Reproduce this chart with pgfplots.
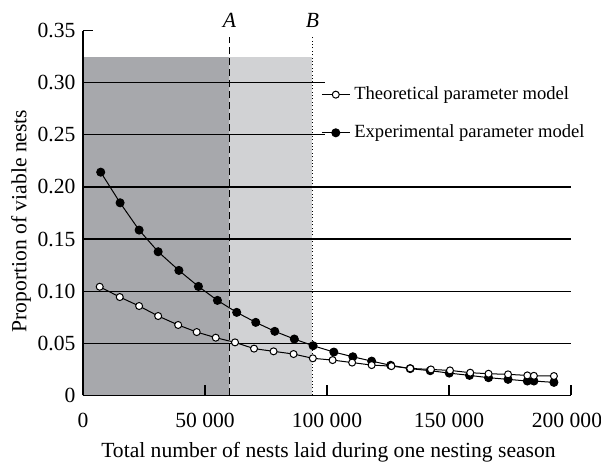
\documentclass[border=0pt]{standalone}
\usepackage{pgfplots}
\pgfplotsset{compat=1.18}
\usepackage{fontspec}
\setmainfont{Liberation Serif}
\definecolor{darkshade}{RGB}{167,168,172}
\definecolor{lightshade}{RGB}{209,210,212}
\begin{document}
\fontsize{10.8}{13}\selectfont
\begin{tikzpicture}
\useasboundingbox (-41.5pt,-34.35pt) rectangle (259pt,197.65pt);
\begin{axis}[
  scale only axis, width=244pt, height=182.3pt,
  xmin=0, xmax=200000, ymin=0, ymax=0.35,
  axis x line*=bottom, axis y line*=left,
  axis line style={-, line width=0.6pt},
  axis on top,
  xtick={0,50000,100000,150000,200000},
  xticklabels={0,50 000,100 000,150 000,\hspace*{-4pt}200 000},
  xticklabel style={yshift=-5pt},
  ytick={0,0.05,0.10,0.15,0.20,0.25,0.30,0.35},
  yticklabels={0,0.05,0.10,0.15,0.20,0.25,0.30,0.35},
  tick align=inside,
  major tick length=5pt,
  tick style={black, line width=0.6pt},
  scaled x ticks=false,
  xlabel={Total number of nests laid during one nesting season},
  xlabel style={at={(axis description cs:0.503,-0.1555)}, anchor=center},
  ylabel={Proportion of viable nests},
  ylabel style={at={(axis description cs:-0.127,0.478)}, anchor=center},
  clip=false,
  reverse legend,
  legend cell align=left,
  legend style={draw=none, fill=none, at={(axis cs:97500,0.2703)}, anchor=west,
    inner sep=0pt, font=\fontsize{9.3}{11}\selectfont, row sep=7pt},
  legend image code/.code={\draw[mark repeat=2,mark phase=2,#1] plot coordinates {(0pt,0pt) (7pt,0pt) (14pt,0pt)};},
]
\fill[darkshade] (axis cs:0,0) rectangle (axis cs:60000,0.325);
\fill[lightshade] (axis cs:60000,0) rectangle (axis cs:94000,0.325);
\draw[line width=0.6pt] (axis cs:0,0.05) -- (axis cs:200000,0.05);
\draw[line width=0.6pt] (axis cs:0,0.10) -- (axis cs:200000,0.10);
\draw[line width=0.6pt] (axis cs:0,0.15) -- (axis cs:200000,0.15);
\draw[line width=0.6pt] (axis cs:0,0.20) -- (axis cs:200000,0.20);
\draw[line width=0.6pt] (axis cs:0,0.25) -- (axis cs:99000,0.25);
\draw[line width=0.6pt] (axis cs:0,0.30) -- (axis cs:99000,0.30);
\draw[line width=0.5pt, dash pattern=on 3.5pt off 2pt] (axis cs:60000,0) -- (axis cs:60000,0.344);
\draw[line width=0.4pt, dash pattern=on 0.5pt off 1.2pt] (axis cs:94000,0) -- (axis cs:94000,0.344);
\node[font=\itshape, anchor=base] at (axis cs:60000,0.353) {A};
\node[font=\itshape, anchor=base] at (axis cs:94000,0.353) {B};
\addplot[black, line width=0.5pt, mark=*, mark size=2pt, mark options={fill=black, solid}] coordinates {
(7260,0.2142) (15200,0.1848) (23000,0.1586) (30800,0.1378) (39300,0.1199)
(47300,0.1045) (55100,0.0911) (63000,0.0796) (70800,0.0700) (78600,0.0614)
(86600,0.0540) (94300,0.0476) (102800,0.0415) (110600,0.0370) (118300,0.0328)
(126100,0.0288) (134100,0.0256) (142300,0.0236) (150100,0.0213) (158400,0.0191)
(166200,0.0169) (174200,0.0153) (182100,0.0137) (184800,0.0137) (193000,0.0124)
};
\addlegendentry{Experimental parameter model}
\addplot[black, line width=0.5pt, mark=*, mark size=1.75pt, mark options={fill=white, solid}] coordinates {
(6850,0.1042) (15070,0.0943) (23000,0.0857) (30800,0.0761) (39000,0.0675)
(46600,0.0607) (54400,0.0553) (62300,0.0508) (70100,0.0448) (78100,0.0422)
(86300,0.0396) (94200,0.0355) (102300,0.0338) (110300,0.0314) (118300,0.0290)
(126400,0.0280) (134100,0.0258) (142600,0.0248) (150400,0.0239) (158700,0.0217)
(166200,0.0207) (174200,0.0201) (182100,0.0191) (184800,0.0187) (193000,0.0185)
};
\addlegendentry{Theoretical parameter model}
\end{axis}
\end{tikzpicture}
\end{document}
